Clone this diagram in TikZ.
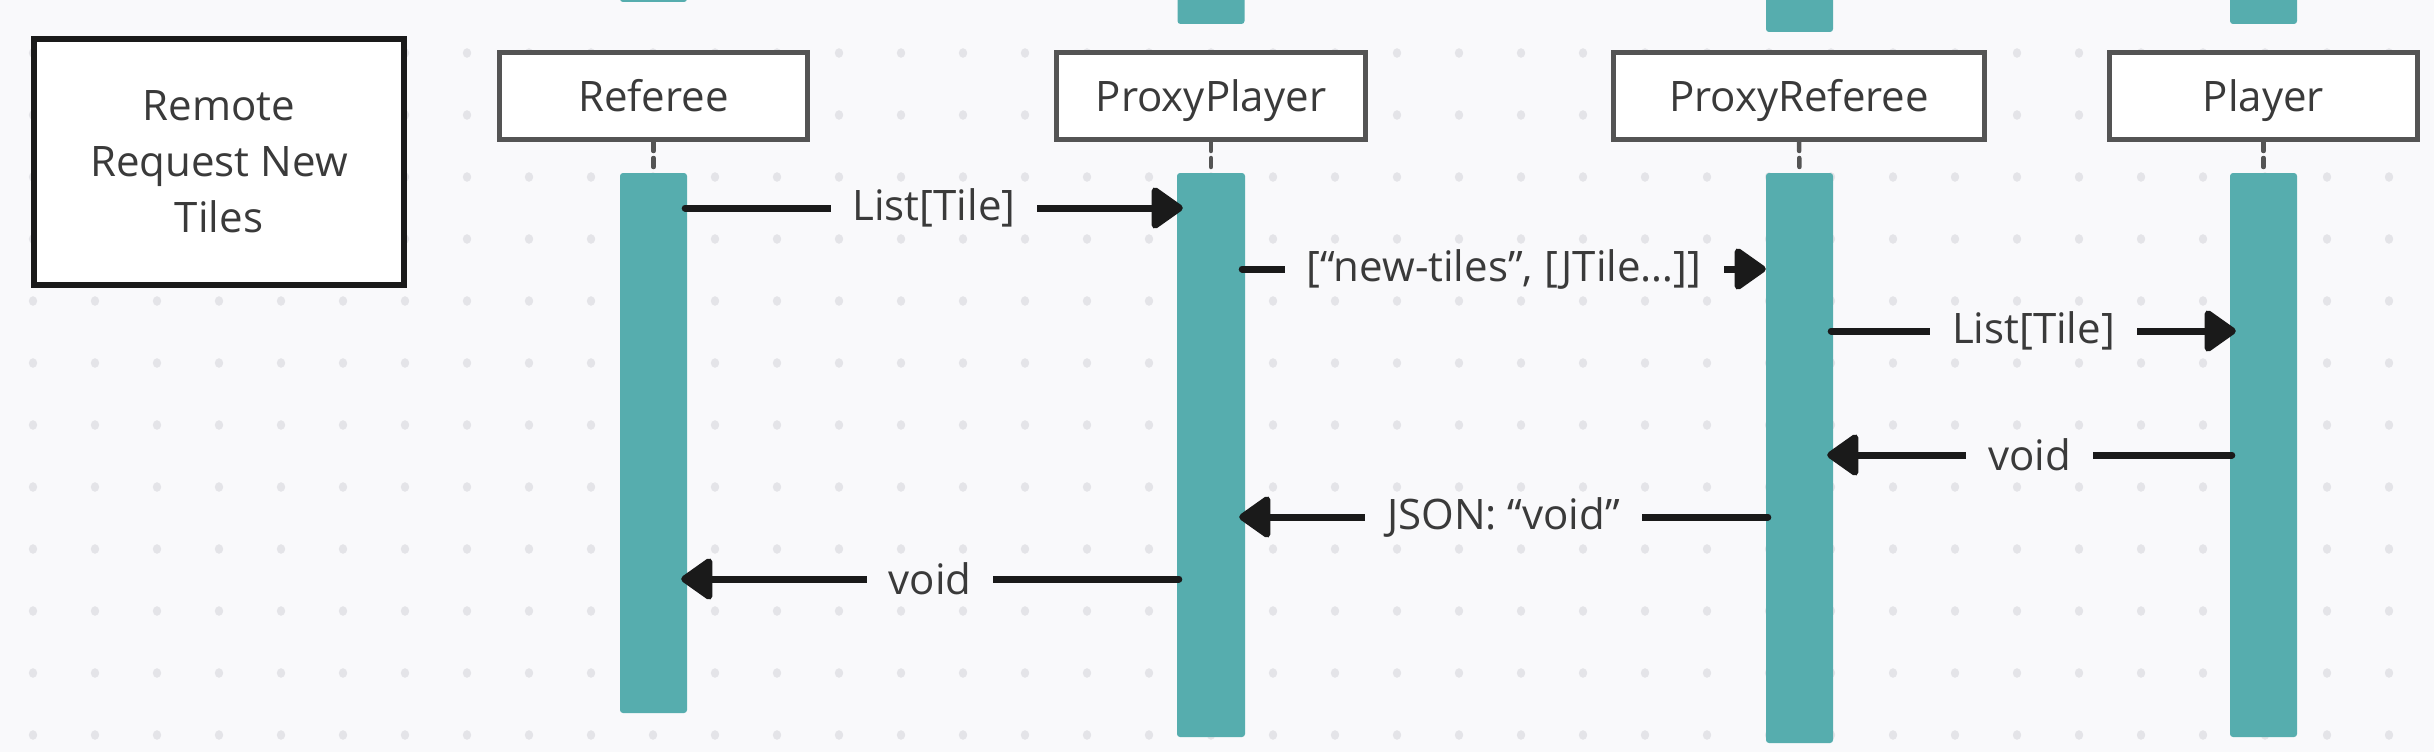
\documentclass[tikz,border=0pt]{standalone}
\usepackage{fontspec}
\setmainfont{Open Sans}
\usetikzlibrary{arrows.meta,calc}
\definecolor{bg}{HTML}{F9F9FB}
\definecolor{dotc}{HTML}{E4E4E8}
\definecolor{tealbar}{HTML}{56ADAE}
\definecolor{txt}{HTML}{3A3A3A}
\definecolor{hdr}{HTML}{545454}
\definecolor{ink}{HTML}{1A1A1A}
\begin{document}
\begin{tikzpicture}[x=1pt,y=-1pt,
  every node/.style={font=\fontsize{42}{56}\selectfont, text=txt},
  head/.style={draw=hdr, line width=5pt, fill=white, minimum height=87pt, inner sep=0pt, text height=30pt, text depth=0pt},
  titlebox/.style={draw=ink, line width=6pt, fill=white, minimum width=370pt, minimum height=246pt, inner sep=0pt, align=center},
  bar/.style={fill=tealbar, rounded corners=3pt, minimum width=67pt, inner sep=0pt},
  life/.style={draw=hdr, line width=4.5pt, line cap=round, dash pattern=on 9pt off 7pt},
  msg/.style={draw=ink, line width=7pt, line cap=round, -{Triangle[length=34pt,width=46pt,round]}},
  lbl/.style={fill=bg, inner xsep=22pt, inner ysep=0pt}
]
\clip (0,0) rectangle (2434,752);
\fill[bg] (0,0) rectangle (2434,752);
\foreach \i in {0,...,38}{
  \foreach \j in {0,...,11}{
    \fill[dotc] ({33+62*\i},{53+62*\j}) ellipse (4.2pt and 4.8pt);
  }
}
% title
\node[titlebox] (title) at (219,162) {Remote\\Request New\\Tiles};
% top stubs
\node[bar, minimum height=12pt] (refstub) at (653.5,-4) {};
\node[bar, minimum height=34pt] (ppstub) at (1211,7) {};
\node[bar, minimum height=42pt] (prstub) at (1799.5,11) {};
\node[bar, minimum height=34pt] (plstub) at (2263.5,7) {};
% heads
\node[head, minimum width=308pt] (ref) at (653.5,96) {Referee};
\node[head, minimum width=309pt] (pp) at (1211,96) {ProxyPlayer};
\node[head, minimum width=371pt] (pr) at (1799,96) {ProxyReferee};
\node[head, minimum width=308pt] (pl) at (2263.5,96) {Player};
% bars
\node[bar, minimum height=540pt] (refbar) at (653.5,443) {};
\node[bar, minimum height=564pt, minimum width=68pt] (ppbar) at (1211,455) {};
\node[bar, minimum height=570pt] (prbar) at (1799.5,458) {};
\node[bar, minimum height=564pt] (plbar) at (2263.5,455) {};
% lifelines
\draw[life] (ref.south) -- (refbar.north);
\draw[life] (pp.south) -- (ppbar.north);
\draw[life] (pr.south) -- (prbar.north);
\draw[life] (pl.south) -- (plbar.north);
% message rows
\coordinate (y1) at (0,208);
\coordinate (y2) at (0,269);
\coordinate (y3) at (0,331);
\coordinate (y4) at (0,455);
\coordinate (y5) at (0,517);
\coordinate (y6) at (0,579);
\draw[msg] ($(refbar.east |- y1)+(-2,0)$) -- node[lbl]{List[Tile]} ($(ppbar.west |- y1)+(6,0)$);
\draw[msg] ($(ppbar.east |- y2)+(-3,0)$) -- node[lbl]{[“new-tiles”, [JTile…]]} ($(prbar.west |- y2)+(0,0)$);
\draw[msg] ($(prbar.east |- y3)+(-2,0)$) -- node[lbl]{List[Tile]} ($(plbar.west |- y3)+(6,0)$);
\draw[msg] ($(plbar.west |- y4)+(2,0)$) -- node[lbl]{void} ($(prbar.east |- y4)+(-6,0)$);
\draw[msg] ($(prbar.west |- y5)+(2,0)$) -- node[lbl]{JSON: “void”} ($(ppbar.east |- y5)+(-6,0)$);
\draw[msg] ($(ppbar.west |- y6)+(2,0)$) -- node[lbl]{void} ($(refbar.east |- y6)+(-6,0)$);
\end{tikzpicture}
\end{document}
